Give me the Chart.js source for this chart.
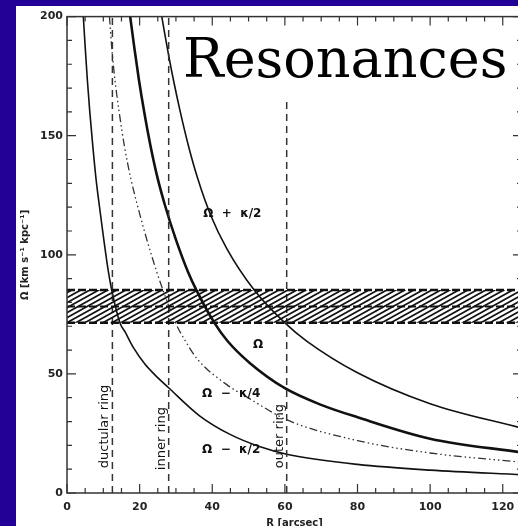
<!DOCTYPE html>
<html>
<head>
<meta charset="utf-8">
<script src="https://cdn.jsdelivr.net/npm/chart.js@4"></script>
<style>
  html, body { margin: 0; padding: 0; background: #230096; overflow: hidden; }
  #wrap { position: absolute; left: 16px; top: 6px; width: 510px; height: 526px; background: #fff; }
</style>
</head>
<body>
<div id="wrap"><canvas id="resonances" width="510" height="526"></canvas></div>
<script>
'use strict';

// Achsen
const xMax = 125.3;
const xTicks = [0, 20, 40, 60, 80, 100, 120];
const yTicks = [0, 50, 100, 150, 200];

// Omega + kappa/2
const rOuter = [26.1, 27.6, 29.3, 31.2, 33.4, 36, 39.6, 44, 51.5, 60, 66, 80, 100, 125.3];
const omegaOuter = [200, 187, 173.5, 160, 146, 132, 116.5, 102.6, 85.3, 71.4, 63.8, 50.5, 37.5, 27.2];

// Omega
const rOmega = [17.4, 18.5, 19.8, 21.3, 23, 24.9, 27, 29.9, 33.3, 35.6, 40.6, 44.2, 50.4, 60, 70, 80, 100, 125.3];
const omega = [200, 187.4, 173.5, 159.6, 145.7, 132.5, 120.7, 106.8, 92.9, 85.3, 71.4, 63.8, 54.5, 44, 37, 31.8, 22.8, 17];

// Omega - kappa/4
const rQuarter = [11.7, 12.3, 13.2, 14.4, 15.8, 17.5, 19.4, 21.9, 24.7, 26.4, 29.9, 32.6, 36, 44, 50.4, 60.4, 80, 100, 125.3];
const omegaQuarter = [200, 187.4, 173.5, 159.6, 145.7, 132.5, 120.7, 106.8, 92.9, 85.3, 71.4, 63.8, 56, 45.5, 39.5, 30.8, 22, 16.8, 12.9];

// Omega - kappa/2
const rHalf = [4.5, 5, 5.6, 6.3, 7.1, 8, 8.9, 10.1, 11.4, 12.3, 14.6, 16, 18.3, 21.5, 24.2, 27.9, 36.6, 44.9, 53.2, 60.5, 80, 100, 125.3];
const omegaHalf = [200, 187.4, 173.5, 159.6, 145.7, 131.8, 120.7, 106.8, 92.9, 85.3, 71.4, 67.6, 61, 54, 49.6, 44.3, 32.3, 24.6, 19.4, 16.3, 12, 9.6, 7.7];

// Ringe (vertikale Linien)
const ringR = [12.5, 28, 60.5];
const ringTop = [200, 200, 166];
const ringLabels = ['ductular ring', 'inner ring', 'outer ring'];
const ringLabelOmega = [10.4, 9.6, 10.4];

// Pattern-Speed-Band
const bandR = [0, xMax];
const bandLow = 71.5;
const bandMid = 78.3;
const bandHigh = 85.2;

// Kurvenbeschriftungen
const curveLabels = ['Ω  +  κ/2', 'Ω', 'Ω  −  κ/4', 'Ω  −  κ/2'];
const labelR = [37.5, 51.2, 37.2, 37.2];
const labelOmega = [117, 62, 41.7, 17.9];

const toPoints = (xs, ys) => xs.map((v, i) => ({ x: v, y: ys[i] }));
const flat = (xs, v) => xs.map(x => ({ x, y: v }));

function hatchPattern(ctx) {
  const tile = document.createElement('canvas');
  tile.width = 9;
  tile.height = 4.5;
  tile.height = 5;
  const t = tile.getContext('2d');
  t.strokeStyle = '#111';
  t.lineWidth = 1.7;
  t.beginPath();
  for (let k = -1; k <= 1; k++) {
    t.moveTo(-1, 5 + 0.55 + k * 5);
    t.lineTo(10, -0.55 + k * 5);
  }
  t.stroke();
  return ctx.createPattern(tile, 'repeat');
}

const curveStyle = {
  pointRadius: 0,
  borderColor: '#111',
  cubicInterpolationMode: 'monotone',
  fill: false,
};

// Rahmen und Ticks nach innen
const frameTicks = {
  id: 'frameTicks',
  afterDatasetsDraw(chart) {
    const { ctx, chartArea: a, scales: { x, y } } = chart;
    ctx.save();
    ctx.strokeStyle = '#333';
    ctx.lineWidth = 1.5;
    ctx.strokeRect(a.left, a.top, a.right - a.left, a.bottom - a.top);
    ctx.lineWidth = 1.2;
    ctx.beginPath();
    for (let v = 0; v <= xMax; v += 5) {
      const px = x.getPixelForValue(v);
      const len = v % 20 === 0 ? 9 : 5;
      ctx.moveTo(px, a.bottom);
      ctx.lineTo(px, a.bottom - len);
      ctx.moveTo(px, a.top);
      ctx.lineTo(px, a.top + len);
    }
    for (let v = 0; v <= 200; v += 10) {
      const py = y.getPixelForValue(v);
      const len = v % 50 === 0 ? 9 : 5;
      ctx.moveTo(a.left, py);
      ctx.lineTo(a.left + len, py);
      ctx.moveTo(a.right, py);
      ctx.lineTo(a.right - len, py);
    }
    ctx.stroke();
    ctx.restore();
  },
  afterDraw(chart) {
    const { ctx, scales: { x, y } } = chart;
    ctx.save();
    ctx.fillStyle = '#111';
    ctx.font = 'bold 12px "DejaVu Sans"';
    ctx.textBaseline = 'middle';
    curveLabels.forEach((txt, i) => {
      ctx.fillText(txt, x.getPixelForValue(labelR[i]), y.getPixelForValue(labelOmega[i]));
    });
    ctx.font = '13px "DejaVu Sans"';
    ctx.textBaseline = 'bottom';
    ringLabels.forEach((txt, i) => {
      ctx.save();
      ctx.translate(x.getPixelForValue(ringR[i]) - 1, y.getPixelForValue(ringLabelOmega[i]));
      ctx.rotate(-Math.PI / 2);
      ctx.fillText(txt, 0, 0);
      ctx.restore();
    });
    ctx.fillStyle = '#000';
    ctx.font = '54px "DejaVu Serif"';
    ctx.textBaseline = 'alphabetic';
    ctx.fillText('Resonances', 167, 71);
    ctx.restore();
  },
};

const ctx = document.getElementById('resonances').getContext('2d');

new Chart(ctx, {
  type: 'line',
  data: {
    datasets: [
      {
        data: flat(bandR, bandHigh),
        borderColor: '#111',
        borderWidth: 2.5,
        borderDash: [8, 3],
        pointRadius: 0,
        fill: '+1',
        backgroundColor: hatchPattern(ctx),
      },
      {
        data: flat(bandR, bandLow),
        borderColor: '#111',
        borderWidth: 2.5,
        borderDash: [8, 3],
        pointRadius: 0,
        fill: false,
      },
      {
        data: flat(bandR, bandMid),
        borderColor: '#111',
        borderWidth: 2,
        borderDash: [8, 3],
        pointRadius: 0,
        fill: false,
      },
      ...ringR.map((r, i) => ({
        data: [{ x: r, y: 0 }, { x: r, y: ringTop[i] }],
        borderColor: '#333',
        borderWidth: 1.5,
        borderDash: [7, 5],
        pointRadius: 0,
        fill: false,
      })),
      { ...curveStyle, data: toPoints(rOuter, omegaOuter), borderWidth: 1.6 },
      { ...curveStyle, data: toPoints(rOmega, omega), borderWidth: 2.6 },
      {
        ...curveStyle,
        data: toPoints(rQuarter, omegaQuarter),
        borderWidth: 1.3,
        borderColor: '#333',
        borderDash: [8, 3, 1.5, 3, 1.5, 3, 1.5, 3],
      },
      { ...curveStyle, data: toPoints(rHalf, omegaHalf), borderWidth: 1.6 },
    ],
  },
  options: {
    responsive: false,
    animation: false,
    events: [],
    layout: { padding: { top: 7, right: 4, left: 0, bottom: 0 } },
    plugins: {
      legend: { display: false },
      tooltip: { enabled: false },
    },
    scales: {
      x: {
        type: 'linear',
        min: 0,
        max: xMax,
        afterBuildTicks: scale => {
          scale.ticks = xTicks.map(v => ({ value: v }));
        },
        afterFit: scale => {
          scale.height = 39;
        },
        grid: { display: false, drawTicks: false },
        border: { display: false },
        ticks: {
          padding: 8,
          maxRotation: 0,
          color: '#222',
          font: { family: 'DejaVu Sans', size: 11, weight: 'bold' },
        },
        title: {
          display: true,
          text: 'R [arcsec]',
          color: '#222',
          padding: 3,
          font: { family: 'DejaVu Sans', size: 10, weight: 'bold' },
        },
      },
      y: {
        type: 'linear',
        min: 0,
        max: 200,
        afterBuildTicks: scale => {
          scale.ticks = yTicks.map(v => ({ value: v }));
        },
        afterFit: scale => {
          scale.width = 51;
        },
        grid: { display: false, drawTicks: false },
        border: { display: false },
        ticks: {
          padding: 4,
          color: '#222',
          font: { family: 'DejaVu Sans', size: 11, weight: 'bold' },
        },
        title: {
          display: true,
          text: 'Ω [km s⁻¹ kpc⁻¹]',
          color: '#222',
          padding: 3,
          font: { family: 'DejaVu Sans', size: 10, weight: 'bold' },
        },
      },
    },
  },
  plugins: [frameTicks],
});
</script>
</body>
</html>
